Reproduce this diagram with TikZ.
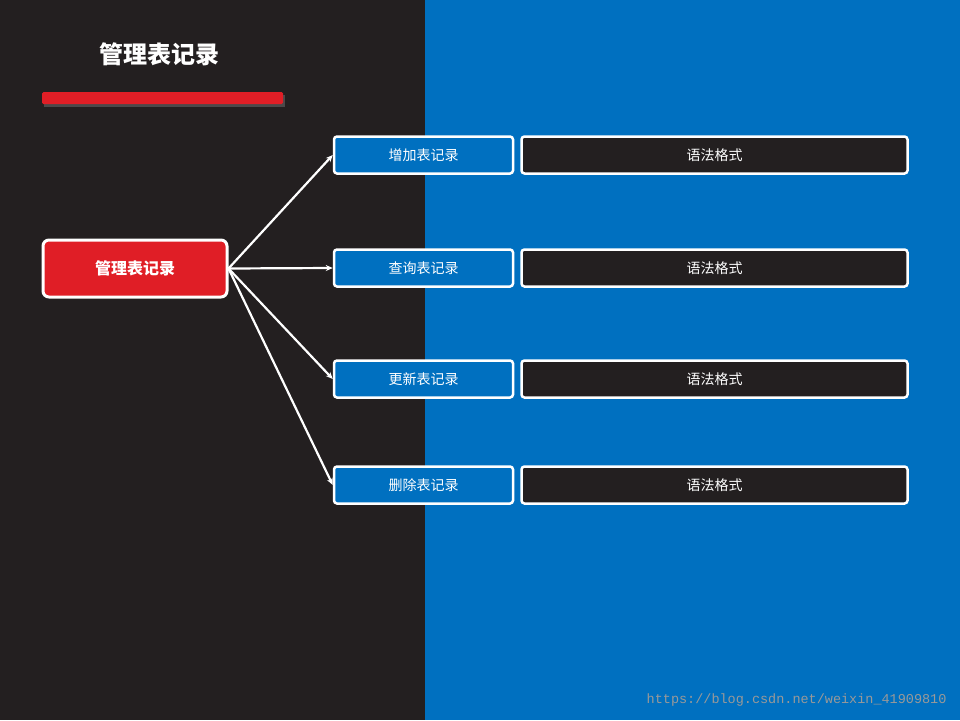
\documentclass[tikz,border=0pt]{standalone}
\usepackage{fontspec}
\setmainfont{Noto Sans CJK SC}
\newfontfamily\monof{Liberation Mono}
\usetikzlibrary{arrows.meta}
\definecolor{dk}{HTML}{231F20}
\definecolor{bl}{HTML}{0070C0}
\definecolor{rd}{HTML}{E01E26}
\tikzset{
 sub/.style={draw=white,line width=2.5pt,rounded corners=3pt,fill=bl,minimum width=179pt,minimum height=37pt,text=white,font=\fontsize{14}{16}\selectfont},
 syn/.style={draw=white,line width=2.5pt,rounded corners=3pt,fill=dk,minimum width=386pt,minimum height=37pt,text=white,font=\fontsize{14}{16}\selectfont},
 arr/.style={white,line width=2.2pt,-{Stealth[length=7pt,width=6pt]}}
}
\begin{document}
\begin{tikzpicture}[x=1pt,y=-1pt]
\useasboundingbox (0,0) rectangle (960,720);
\fill[dk] (0,0) rectangle (425,720);
\fill[bl] (425,0) rectangle (960,720);
\node[text=white,font=\bfseries\fontsize{24}{28}\selectfont] (title) at (159,54) {管理表记录};
\fill[black!60,opacity=0.6] (44,95) rectangle (285,107);
\fill[rd,rounded corners=1.5pt] (42,92) rectangle (283,104);
\node[draw=white,line width=3pt,rounded corners=6pt,fill=rd,minimum width=184pt,minimum height=57pt,text=white,font=\bfseries\fontsize{16}{18}\selectfont] (main) at (135,268.5) {管理表记录};
\foreach \n/\y/\t in {a/155/增加表记录,b/268/查询表记录,c/379/更新表记录,d/485/删除表记录}{
 \node[sub] (\n) at (423.5,\y) {\t};
 \node[syn] (s\n) at (714.5,\y) {语法格式};
 \draw[arr] (main.east) -- (\n.west);
}
\node[text=black!40,font=\monof\fontsize{13.5}{15}\selectfont,anchor=east] (wm) at (950,700) {https://blog.csdn.net/weixin\_41909810};
\end{tikzpicture}
\end{document}
